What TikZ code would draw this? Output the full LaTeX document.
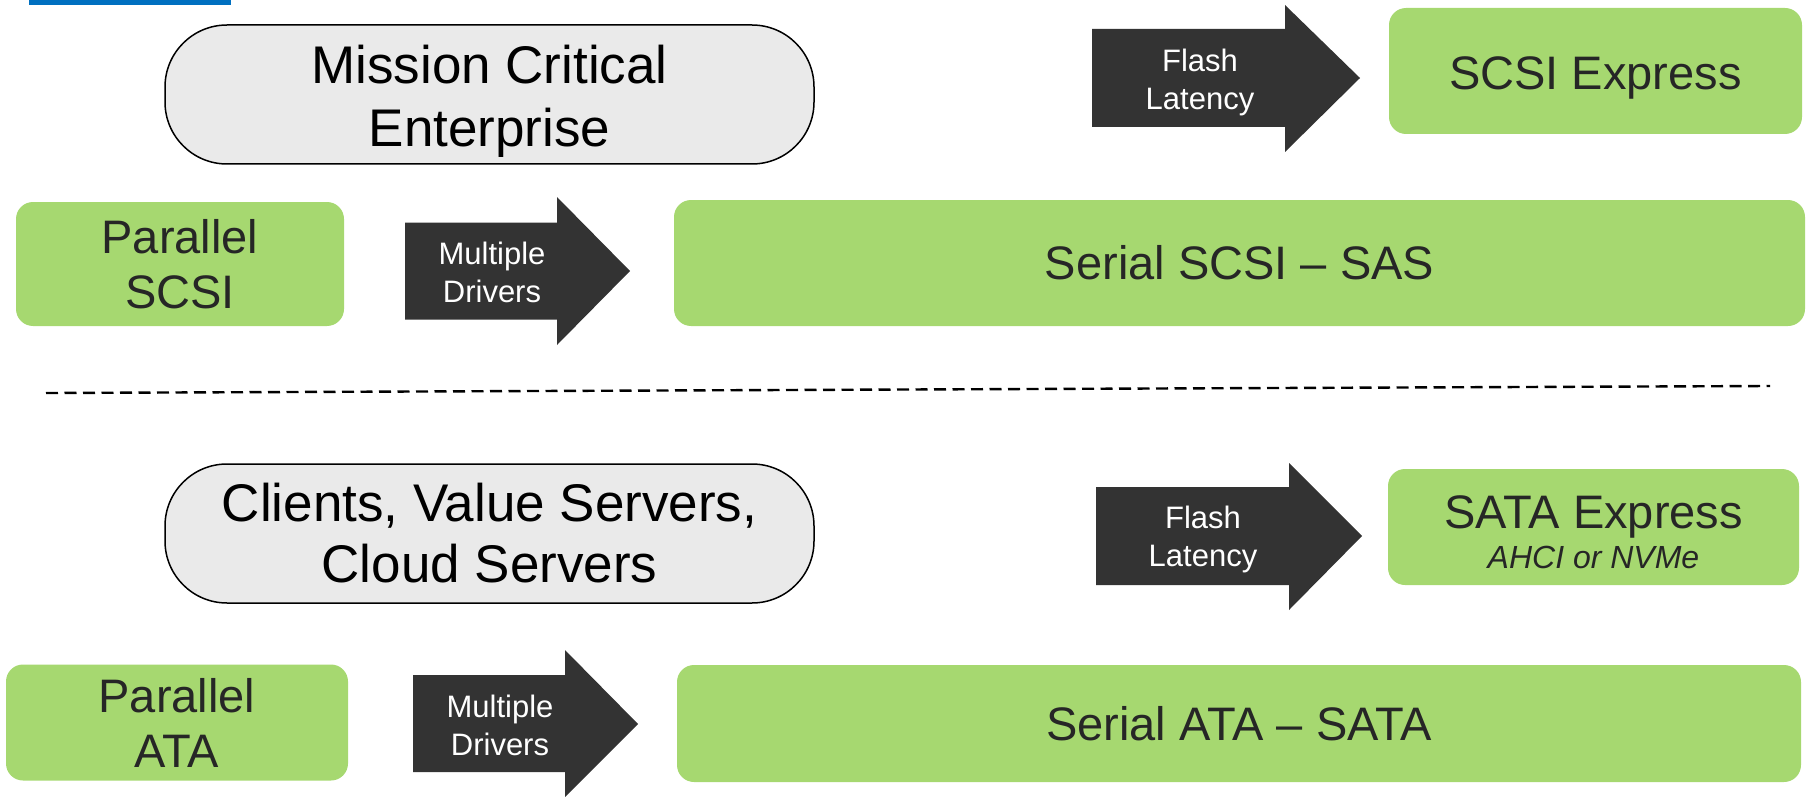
\documentclass[tikz,border=0pt]{standalone}
\usepackage{fontspec}
\setmainfont{Liberation Sans}
\definecolor{boxgreen}{HTML}{A6D870}
\definecolor{boxtext}{HTML}{262626}
\definecolor{segfill}{HTML}{EAEAEA}
\definecolor{arrowgray}{HTML}{333333}
\definecolor{barblue}{HTML}{0070C0}
\begin{document}
\begin{tikzpicture}[x=1pt,y=-1pt,
  greenbox/.style={fill=boxgreen, rounded corners=17pt, text=boxtext,
    align=center, inner sep=0pt, font=\fontsize{47}{55}\selectfont},
  segment/.style={draw=black, line width=1.5pt, fill=segfill,
    rounded corners=62pt, align=center, inner sep=0pt,
    minimum width=649pt, minimum height=139pt,
    font=\fontsize{53}{63}\selectfont},
  blockarrow/.style={fill=arrowgray},
  arrowtext/.style={text=white, align=center, inner sep=0pt,
    font=\fontsize{31}{38}\selectfont},
  separator/.style={line width=2.4pt, dash pattern=on 12pt off 6.5pt}]
\useasboundingbox (0,0) rectangle (1808,797);

% header accent
\fill[barblue] (29,0) rectangle (231,5);

% ---------- SCSI family ----------
\node[segment, text height=116pt] (mce) at (489.5,94.5)
  {Mission Critical\\Enterprise};

\fill[blockarrow] (1092,29) -- (1285,29) -- (1285,5) -- (1360,78)
  -- (1285,152) -- (1285,127) -- (1092,127) -- cycle;
\node[arrowtext] (flash1) at (1200,82) {Flash\\Latency};

\node[greenbox, minimum width=413pt, minimum height=126pt,
  text height=40pt, text depth=3.5pt] (scsiexp)
  at (1595.5,71) {SCSI Express};

\node[greenbox, minimum width=328pt, minimum height=124pt] (pscsi)
  at (180,264) {Parallel\\SCSI};

\fill[blockarrow] (405,222.5) -- (557,222.5) -- (557,197) -- (630,271)
  -- (557,345) -- (557,319.5) -- (405,319.5) -- cycle;
\node[arrowtext] (drivers1) at (492,272.5) {Multiple\\Drivers};

\node[greenbox, minimum width=1131pt, minimum height=126pt] (sas)
  at (1239.5,263) {Serial SCSI – SAS};

% ---------- separator ----------
\coordinate (sepL) at (46,393);
\coordinate (sepR) at (1770,386);
\draw[separator] (sepL) -- (sepR);

% ---------- ATA family ----------
\node[segment, font=\fontsize{53}{61}\selectfont] (cvs) at (489.5,533.5)
  {Clients, Value Servers,\\Cloud Servers};

\fill[blockarrow] (1096,487) -- (1289,487) -- (1289,463) -- (1362,536)
  -- (1289,610) -- (1289,585) -- (1096,585) -- cycle;
\node[arrowtext] (flash2) at (1203,539.5) {Flash\\Latency};

\node[greenbox, minimum width=411pt, minimum height=116pt,
  font=\fontsize{47}{40}\selectfont, text height=83pt] (sataexp)
  at (1593.5,527)
  {SATA Express\\
   {\fontsize{32}{40}\selectfont\itshape AHCI or NVMe}};

\node[greenbox, minimum width=342pt, minimum height=116pt] (pata)
  at (177,722.5) {Parallel\\ATA};

\fill[blockarrow] (413,675) -- (565,675) -- (565,650) -- (638,724)
  -- (565,797) -- (565,772) -- (413,772) -- cycle;
\node[arrowtext] (drivers2) at (500,725) {Multiple\\Drivers};

\node[greenbox, minimum width=1124pt, minimum height=117pt] (sata)
  at (1239,723.5) {Serial ATA – SATA};
\end{tikzpicture}
\end{document}
